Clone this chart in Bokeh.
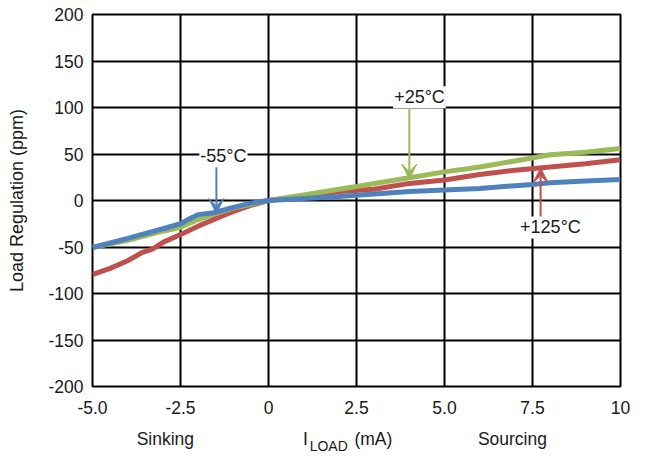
from bokeh.plotting import figure
from bokeh.models import Label, Arrow, VeeHead, FixedTicker, Range1d, LinearAxis
from bokeh.embed import file_html
from bokeh.resources import INLINE

# Load current (mA)
x_blue = [-5, -4, -3, -2.5, -2.2, -2, -1.6, -1, -0.5, 0, 2, 4, 5, 6, 7.5, 8, 9, 10]
y_blue = [-50.6, -40.7, -30.4, -25, -18.8, -15.2, -13.5, -7.4, -2.8, 0, 4.2, 9.6, 11.3, 13, 17.3, 19, 21, 22.7]

x_green = [-5, -4, -3, -2.5, -2, -1.6, -1, 0, 1, 2, 2.5, 4, 5, 6, 7, 8, 9, 10]
y_green = [-50.6, -42.8, -33, -28.7, -20.5, -15.2, -8.1, 0, 6, 12, 15, 24.4, 30.8, 36, 42.5, 49.2, 52, 56]

x_red = [-5, -4.5, -4, -3.6, -3.3, -3, -2.5, -2, -1.5, -1, -0.5, 0, 1, 2, 3, 4, 5, 6, 7, 8, 9, 10]
y_red = [-79.6, -73, -64.8, -56, -52.4, -45, -36.5, -27.6, -19.5, -11.7, -5.3, 0, 4.2, 9.6, 12, 18.4, 22, 28, 32.6, 36, 39.6, 43.9]

x_ticks = [-5, -2.5, 0, 2.5, 5, 7.5, 10]
x_tick_labels = ["-5.0", "-2.5", "0", "2.5", "5.0", "7.5", "10"]
y_ticks = [-200, -150, -100, -50, 0, 50, 100, 150, 200]
y_tick_labels = ["-200", "-150", "-100", "-50", "0", "50", "100", "150", "200"]

# bottom caption row
caption_pos = [-2.93, 1.05, 2.98, 6.93]
caption_text = ["Sinking", "I", "(mA)", "Sourcing"]
sub_pos = [1.71]
sub_text = ["LOAD"]

BLUE = "#4F81BD"
GREEN = "#9BBB59"
RED = "#C0504D"
FONT = "Liberation Sans"
TXT = "#1a1a1a"

p = figure(width=640, height=456, output_backend="svg", toolbar_location=None,
           x_range=Range1d(-5, 10), y_range=Range1d(-200, 200),
           min_border_left=92, min_border_right=20, min_border_top=14, min_border_bottom=67)

p.outline_line_color = "black"
p.outline_line_width = 2

def style_axis(ax, size="17.5px"):
    ax.axis_line_color = None
    ax.major_tick_line_color = None
    ax.minor_tick_line_color = None
    ax.major_tick_out = 0
    ax.major_tick_in = 0
    ax.minor_tick_out = 0
    ax.minor_tick_in = 0
    ax.major_label_text_font = FONT
    ax.major_label_text_font_size = size
    ax.major_label_text_color = TXT

style_axis(p.xaxis[0])
style_axis(p.yaxis[0])

p.xaxis.ticker = FixedTicker(ticks=x_ticks)
p.xaxis.major_label_overrides = {t: l for t, l in zip(x_ticks, x_tick_labels)}
p.xaxis.major_label_standoff = 14
p.yaxis.ticker = FixedTicker(ticks=y_ticks)
p.yaxis.major_label_overrides = {t: l for t, l in zip(y_ticks, y_tick_labels)}
p.yaxis.major_label_standoff = 9
p.yaxis.axis_label = "Load Regulation (ppm)"
p.yaxis.axis_label_text_font = FONT
p.yaxis.axis_label_text_font_size = "18px"
p.yaxis.axis_label_text_font_style = "normal"
p.yaxis.axis_label_text_color = TXT
p.yaxis.axis_label_standoff = 18

ax2 = LinearAxis(ticker=FixedTicker(ticks=caption_pos),
                 major_label_overrides={t: l for t, l in zip(caption_pos, caption_text)})
style_axis(ax2)
ax2.major_label_standoff = 12
p.add_layout(ax2, "below")

ax3 = LinearAxis(ticker=FixedTicker(ticks=sub_pos),
                 major_label_overrides={t: l for t, l in zip(sub_pos, sub_text)})
style_axis(ax3, "14px")
ax3.major_label_standoff = -14
p.add_layout(ax3, "below")

p.xgrid.grid_line_color = "black"
p.ygrid.grid_line_color = "black"
p.xgrid.grid_line_width = 2
p.ygrid.grid_line_width = 2
p.xgrid.grid_line_alpha = 1
p.ygrid.grid_line_alpha = 1

p.line(x_red, y_red, line_color=RED, line_width=5)
p.line(x_green, y_green, line_color=GREEN, line_width=5)
p.line(x_blue, y_blue, line_color=BLUE, line_width=5)

# arrows
p.add_layout(Arrow(x_start=-1.48, y_start=36, x_end=-1.48, y_end=-14,
                   line_color=BLUE, line_width=2,
                   end=VeeHead(size=15, fill_color=BLUE, line_color=BLUE)))
p.add_layout(Arrow(x_start=4.0, y_start=99, x_end=4.0, y_end=23,
                   line_color=GREEN, line_width=2,
                   end=VeeHead(size=15, fill_color=GREEN, line_color=GREEN)))
p.add_layout(Arrow(x_start=7.73, y_start=-18, x_end=7.73, y_end=35,
                   line_color=RED, line_width=2,
                   end=VeeHead(size=15, fill_color=RED, line_color=RED)))

def note(x, y, t):
    p.add_layout(Label(x=x, y=y, text=t, text_font=FONT, text_font_size="18px",
                       text_align="center", text_baseline="middle", text_color=TXT,
                       background_fill_color="white", background_fill_alpha=1.0,
                       padding=1))

note(-1.28, 47.5, "-55°C")
note(4.29, 111, "+25°C")
note(8.01, -29, "+125°C")

open("out.html", "w").write(file_html(p, INLINE))
